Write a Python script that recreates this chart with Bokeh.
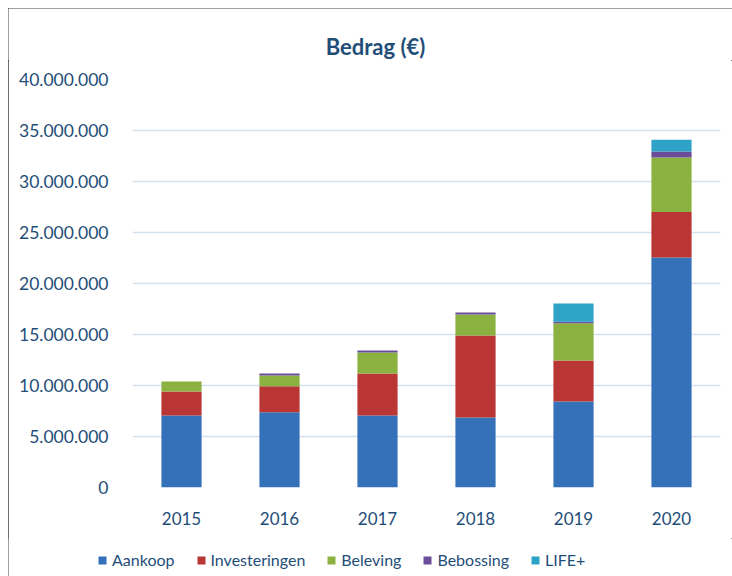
from bokeh.plotting import figure
from bokeh.layouts import column, row
from bokeh.models import (ColumnDataSource, FixedTicker, CustomJSTickFormatter,
                          Legend, LegendItem, Label)
from bokeh.embed import file_html
from bokeh.resources import INLINE

years = ["2015", "2016", "2017", "2018", "2019", "2020"]
series = ["Aankoop", "Investeringen", "Beleving", "Bebossing", "LIFE+"]
aankoop = [7050000, 7380000, 7060000, 6860000, 8430000, 22550000]
investeringen = [2350000, 2550000, 4120000, 8040000, 4020000, 4450000]
beleving = [980000, 1050000, 2060000, 2060000, 3650000, 5350000]
bebossing = [0, 200000, 190000, 200000, 140000, 590000]
life = [0, 0, 0, 0, 1800000, 1160000]
y_ticks = [0, 5000000, 10000000, 15000000, 20000000, 25000000, 30000000, 35000000, 40000000]
colors = ["#3571B8", "#B93634", "#8BB140", "#6A4D98", "#2EA3C7"]

src = ColumnDataSource(dict(years=years, Aankoop=aankoop, Investeringen=investeringen,
                            Beleving=beleving, Bebossing=bebossing, **{"LIFE+": life}))

TXT = "#1F4E79"
FONT = "Lato"

# ---- title strip
tp = figure(width=724, height=52, output_backend="svg", toolbar_location=None,
            min_border=0, x_range=(0, 1), y_range=(0, 52))
tp.axis.visible = False
tp.grid.visible = False
tp.outline_line_color = None
tp.add_layout(Label(x=0.5, y=14, x_offset=5, text="Bedrag (€)", text_font=FONT,
                    text_font_style="bold", text_font_size="22px", text_color=TXT,
                    text_align="center", text_baseline="alphabetic"))

# ---- main chart
p = figure(x_range=years, y_range=(0, 40000000), width=724, height=478,
           output_backend="svg", toolbar_location=None,
           min_border_left=124, min_border_right=12, min_border_top=19, min_border_bottom=51)

p.vbar_stack(series, x="years", width=0.41, source=src, color=colors, line_color=None)

p.outline_line_color = None
p.xgrid.grid_line_color = None
p.ygrid.grid_line_color = "#D3E0EF"
p.ygrid.grid_line_width = 1.6
p.yaxis.ticker = FixedTicker(ticks=y_ticks)
p.yaxis.formatter = CustomJSTickFormatter(
    code='return tick.toFixed(0).replace(/\\B(?=(\\d{3})+(?!\\d))/g, ".");')
for ax in (p.xaxis, p.yaxis):
    ax.axis_line_color = None
    ax.major_tick_line_color = None
    ax.minor_tick_line_color = None
    ax.major_label_text_color = TXT
    ax.major_label_text_font = FONT
p.yaxis.major_label_text_font_size = "17.5px"
p.yaxis.major_label_standoff = 18
p.xaxis.major_label_text_font_size = "17px"
p.xaxis.major_label_standoff = 18

# ---- legend strip
lp = figure(width=724, height=38, output_backend="svg", toolbar_location=None,
            min_border=0, x_range=(0, 1), y_range=(0, 1))
lp.axis.visible = False
lp.grid.visible = False
lp.outline_line_color = None
items = []
for s, c in zip(series, colors):
    r = lp.vbar(x=[-1], top=[0], width=0.01, color=c, line_color=None)
    items.append(LegendItem(label=s, renderers=[r]))
legend = Legend(items=items, orientation="horizontal", location=(89, 7),
                glyph_width=10, glyph_height=10, label_standoff=5, spacing=21,
                padding=0, margin=0, border_line_color=None, background_fill_alpha=0,
                label_text_font=FONT, label_text_font_size="16px", label_text_color=TXT)
lp.add_layout(legend, "center")

layout = column(row(tp), p, row(lp), spacing=0,
                styles={"margin-left": "8px", "margin-top": "8px",
                        "outline": "1px solid #404040", "outline-offset": "-1px"})

open("out.html", "w").write(file_html(layout, INLINE))
